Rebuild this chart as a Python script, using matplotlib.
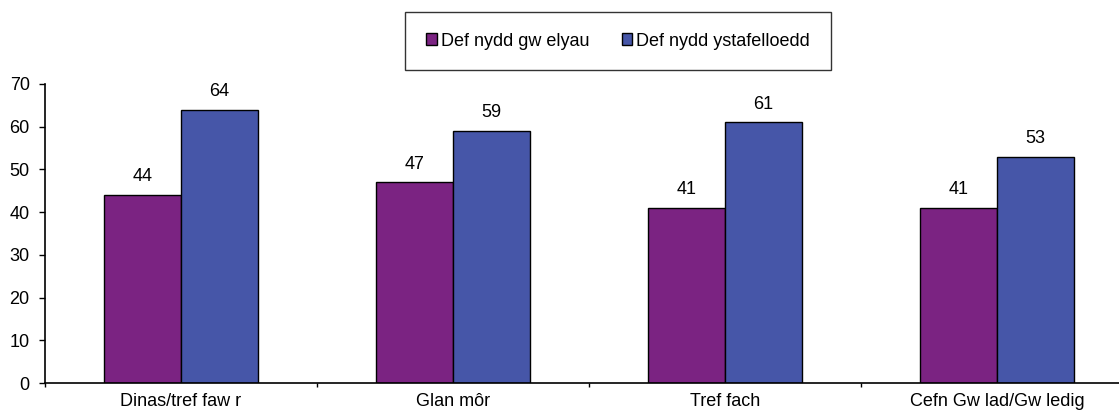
import matplotlib
matplotlib.use("Agg")
import matplotlib.pyplot as plt
from matplotlib.patches import Patch
import numpy as np

plt.rcParams['font.family'] = ['Liberation Sans', 'DejaVu Sans']

categories = ["Dinas/tref faw r", "Glan môr", "Tref fach", "Cefn Gw lad/Gw ledig"]
series_names = ["Def nydd gw elyau", "Def nydd ystafelloedd"]
beds = [44, 47, 41, 41]
rooms = [64, 59, 61, 53]
colors = ["#7B2382", "#4656A8"]

fig = plt.figure(figsize=(11.19, 4.17), dpi=100)
ax = fig.add_axes([45 / 1119, 34 / 417, 1088 / 1119, 299 / 417])

x = np.arange(len(categories))
w = 0.283
b1 = ax.bar(x - w / 2, beds, w, color=colors[0], edgecolor="black", linewidth=1)
b2 = ax.bar(x + w / 2, rooms, w, color=colors[1], edgecolor="black", linewidth=1)
for bars in (b1, b2):
    for r in bars:
        ax.annotate(f"{int(r.get_height())}", (r.get_x() + r.get_width() / 2, r.get_height()),
                    xytext=(0, 7), textcoords="offset points", ha="center", va="bottom", fontsize=13)

ax.set_xlim(-0.5, len(categories) - 0.5)
ax.set_ylim(0, 70)
ax.set_yticks(range(0, 71, 10))
ax.set_xticks(x)
ax.set_xticklabels(categories, fontsize=13)
# small ticks between the categories
ax.set_xticks(np.arange(-0.5, len(categories), 1), minor=True)
ax.tick_params(axis="x", which="major", length=0, pad=7)
ax.tick_params(axis="x", which="minor", length=3, width=1)
ax.tick_params(axis="y", length=4, width=1, labelsize=13, pad=7)
for s in ("top", "right"):
    ax.spines[s].set_visible(False)
for s in ("left", "bottom"):
    ax.spines[s].set_linewidth(1.2)

handles = [Patch(facecolor=c, edgecolor="black") for c in colors]
leg = fig.legend(handles, series_names, loc="center", bbox_to_anchor=(618 / 1119, 1 - 41 / 417),
                 ncol=2, frameon=True, fancybox=False, edgecolor="black", fontsize=13,
                 handlelength=0.6, handleheight=0.6, handletextpad=0.2, columnspacing=1.8,
                 borderpad=1.15, borderaxespad=0)
leg.get_frame().set_linewidth(1)

fig.savefig("out.png", dpi=100)
